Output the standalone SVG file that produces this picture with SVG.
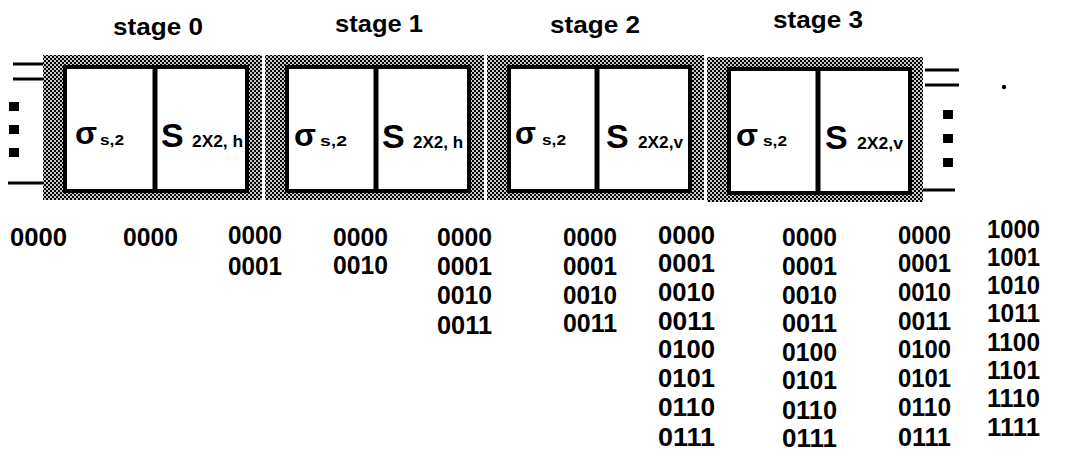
<svg xmlns="http://www.w3.org/2000/svg" width="1071" height="457" viewBox="0 0 1071 457">
<defs>
<pattern id="hatch" width="4" height="4" patternUnits="userSpaceOnUse">
<rect width="4" height="4" fill="#c8c8c8"/>
<rect x="0" y="0" width="2" height="2" fill="#000"/>
<rect x="2" y="2" width="2" height="2" fill="#000"/>
</pattern>
</defs>
<style>
.frame{fill:url(#hatch);}
.cell{fill:#fff;stroke:#000;stroke-width:4;}
.div{stroke:#000;stroke-width:5;}
.wire{stroke:#000;stroke-width:3;fill:none;}
.t{font-family:"Liberation Sans",Arial,sans-serif;font-weight:bold;fill:#000;}
.lbl{font-size:24px;}
.sig{font-size:31px;}
.sub{font-size:15px;}
.S{font-size:34px;}
.sub2{font-size:16px;}
.num{font-size:25px;}
</style>
<g id="stage-labels">
<text class="t lbl" x="113" y="35" textLength="90" lengthAdjust="spacingAndGlyphs">stage 0</text>
<text class="t lbl" x="335" y="32" textLength="88" lengthAdjust="spacingAndGlyphs">stage 1</text>
<text class="t lbl" x="550" y="33" textLength="90" lengthAdjust="spacingAndGlyphs">stage 2</text>
<text class="t lbl" x="773" y="28" textLength="90" lengthAdjust="spacingAndGlyphs">stage 3</text>
</g>
<g id="stage0">
<rect class="frame" x="43" y="55" width="219" height="145"/>
<rect class="cell" x="65" y="67" width="182" height="124"/>
<line class="div" x1="155" y1="67" x2="155" y2="191"/>
<text class="t sig" x="75" y="144" textLength="22" lengthAdjust="spacingAndGlyphs">σ</text>
<text class="t sub" x="100" y="145" textLength="24" lengthAdjust="spacingAndGlyphs">s,2</text>
<text class="t S" x="161" y="147">S</text>
<text class="t sub2" x="192" y="147" textLength="51" lengthAdjust="spacingAndGlyphs">2X2, h</text>
</g>
<g id="stage1">
<rect class="frame" x="265" y="55" width="219" height="145"/>
<rect class="cell" x="287" y="67" width="182" height="124"/>
<line class="div" x1="376" y1="67" x2="376" y2="191"/>
<text class="t sig" x="294" y="146" textLength="22" lengthAdjust="spacingAndGlyphs">σ</text>
<text class="t sub" x="320" y="146" textLength="27" lengthAdjust="spacingAndGlyphs">s,2</text>
<text class="t S" x="382" y="148">S</text>
<text class="t sub2" x="413" y="148" textLength="50" lengthAdjust="spacingAndGlyphs">2X2, h</text>
</g>
<g id="stage2">
<rect class="frame" x="487" y="55" width="217" height="145"/>
<rect class="cell" x="509" y="67" width="181" height="124"/>
<line class="div" x1="597" y1="67" x2="597" y2="191"/>
<text class="t sig" x="515" y="144" textLength="21" lengthAdjust="spacingAndGlyphs">σ</text>
<text class="t sub" x="542" y="145" textLength="24" lengthAdjust="spacingAndGlyphs">s,2</text>
<text class="t S" x="606" y="148">S</text>
<text class="t sub2" x="638" y="148" textLength="45" lengthAdjust="spacingAndGlyphs">2X2,v</text>
</g>
<g id="stage3">
<rect class="frame" x="707" y="57" width="216" height="145"/>
<rect class="cell" x="729" y="69" width="181" height="124"/>
<line class="div" x1="818" y1="69" x2="818" y2="193"/>
<text class="t sig" x="736" y="146" textLength="22" lengthAdjust="spacingAndGlyphs">σ</text>
<text class="t sub" x="763" y="146" textLength="24" lengthAdjust="spacingAndGlyphs">s,2</text>
<text class="t S" x="825" y="149">S</text>
<text class="t sub2" x="857" y="149" textLength="46" lengthAdjust="spacingAndGlyphs">2X2,v</text>
</g>
<g id="connectors">
<line class="wire" x1="13" y1="64" x2="43" y2="64"/>
<line class="wire" x1="13" y1="79" x2="43" y2="79"/>
<line class="wire" x1="8" y1="183" x2="43" y2="183"/>
<rect x="9" y="102" width="10" height="9"/>
<rect x="9" y="125" width="10" height="9"/>
<rect x="9" y="148" width="10" height="9"/>
<line class="wire" x1="925" y1="70" x2="959" y2="70"/>
<line class="wire" x1="925" y1="85" x2="959" y2="85"/>
<line class="wire" x1="923" y1="190" x2="955" y2="190"/>
<rect x="943" y="110" width="10" height="9"/>
<rect x="943" y="134" width="10" height="9"/>
<rect x="943" y="158" width="10" height="9"/>
<circle cx="1004" cy="87" r="2.2"/>
</g>
<g id="addresses" class="t num">
<text x="10" y="246" textLength="57" lengthAdjust="spacingAndGlyphs">0000</text>
<text x="123" y="246" textLength="55" lengthAdjust="spacingAndGlyphs">0000</text>
<text x="228" y="244" textLength="54" lengthAdjust="spacingAndGlyphs">0000</text>
<text x="228" y="275" textLength="54" lengthAdjust="spacingAndGlyphs">0001</text>
<text x="333" y="246" textLength="55" lengthAdjust="spacingAndGlyphs">0000</text>
<text x="333" y="274" textLength="55" lengthAdjust="spacingAndGlyphs">0010</text>
<text x="437" y="246" textLength="55" lengthAdjust="spacingAndGlyphs">0000</text>
<text x="437" y="275" textLength="55" lengthAdjust="spacingAndGlyphs">0001</text>
<text x="437" y="304" textLength="55" lengthAdjust="spacingAndGlyphs">0010</text>
<text x="437" y="334" textLength="55" lengthAdjust="spacingAndGlyphs">0011</text>
<text x="563" y="246" textLength="54" lengthAdjust="spacingAndGlyphs">0000</text>
<text x="563" y="275" textLength="54" lengthAdjust="spacingAndGlyphs">0001</text>
<text x="563" y="304" textLength="54" lengthAdjust="spacingAndGlyphs">0010</text>
<text x="563" y="332" textLength="54" lengthAdjust="spacingAndGlyphs">0011</text>
<text x="658" y="244" textLength="57" lengthAdjust="spacingAndGlyphs">0000</text>
<text x="658" y="272" textLength="57" lengthAdjust="spacingAndGlyphs">0001</text>
<text x="658" y="301" textLength="57" lengthAdjust="spacingAndGlyphs">0010</text>
<text x="658" y="330" textLength="57" lengthAdjust="spacingAndGlyphs">0011</text>
<text x="658" y="358" textLength="57" lengthAdjust="spacingAndGlyphs">0100</text>
<text x="658" y="387" textLength="57" lengthAdjust="spacingAndGlyphs">0101</text>
<text x="658" y="416" textLength="57" lengthAdjust="spacingAndGlyphs">0110</text>
<text x="658" y="446" textLength="57" lengthAdjust="spacingAndGlyphs">0111</text>
<text x="782" y="246" textLength="55" lengthAdjust="spacingAndGlyphs">0000</text>
<text x="782" y="275" textLength="55" lengthAdjust="spacingAndGlyphs">0001</text>
<text x="782" y="304" textLength="55" lengthAdjust="spacingAndGlyphs">0010</text>
<text x="782" y="332" textLength="55" lengthAdjust="spacingAndGlyphs">0011</text>
<text x="782" y="361" textLength="55" lengthAdjust="spacingAndGlyphs">0100</text>
<text x="782" y="389" textLength="55" lengthAdjust="spacingAndGlyphs">0101</text>
<text x="782" y="419" textLength="55" lengthAdjust="spacingAndGlyphs">0110</text>
<text x="782" y="447" textLength="55" lengthAdjust="spacingAndGlyphs">0111</text>
<text x="898" y="244" textLength="53" lengthAdjust="spacingAndGlyphs">0000</text>
<text x="898" y="272" textLength="53" lengthAdjust="spacingAndGlyphs">0001</text>
<text x="898" y="301" textLength="53" lengthAdjust="spacingAndGlyphs">0010</text>
<text x="898" y="330" textLength="53" lengthAdjust="spacingAndGlyphs">0011</text>
<text x="898" y="358" textLength="53" lengthAdjust="spacingAndGlyphs">0100</text>
<text x="898" y="387" textLength="53" lengthAdjust="spacingAndGlyphs">0101</text>
<text x="898" y="416" textLength="53" lengthAdjust="spacingAndGlyphs">0110</text>
<text x="898" y="446" textLength="53" lengthAdjust="spacingAndGlyphs">0111</text>
<text x="987" y="238" textLength="53" lengthAdjust="spacingAndGlyphs">1000</text>
<text x="987" y="266" textLength="53" lengthAdjust="spacingAndGlyphs">1001</text>
<text x="987" y="294" textLength="53" lengthAdjust="spacingAndGlyphs">1010</text>
<text x="987" y="322" textLength="53" lengthAdjust="spacingAndGlyphs">1011</text>
<text x="987" y="351" textLength="53" lengthAdjust="spacingAndGlyphs">1100</text>
<text x="987" y="379" textLength="53" lengthAdjust="spacingAndGlyphs">1101</text>
<text x="987" y="407" textLength="53" lengthAdjust="spacingAndGlyphs">1110</text>
<text x="987" y="436" textLength="53" lengthAdjust="spacingAndGlyphs">1111</text>
</g>
</svg>
